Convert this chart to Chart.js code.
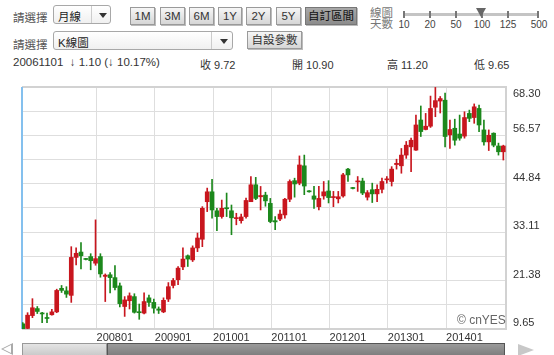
<!DOCTYPE html>
<html>
<head>
<meta charset="utf-8">
<script src="https://cdn.jsdelivr.net/npm/chart.js@4.4.1/dist/chart.umd.min.js"></script>
<style>
  body { margin: 0; width: 554px; height: 355px; overflow: hidden; background: #fff; position: relative;
         font-family: Arial, "Liberation Sans", "Noto Sans CJK TC", sans-serif; font-size: 11px; color: #333; }
  .a { position: absolute; white-space: nowrap; }
  .lbl { color: #555; font-size: 11.5px; }
  .sel { border: 1px solid #a8a8a8; border-radius: 3px; background: linear-gradient(#fff, #f0f0f0); height: 19px; box-sizing: border-box; }
  .sel span { position: absolute; left: 4px; top: 2px; font-size: 11.5px; color: #222; }
  .sel i { position: absolute; top: 0; bottom: 0; width: 0; border-left: 1px solid #ccc; }
  .sel b { position: absolute; top: 7px; width: 0; height: 0; border-left: 4px solid transparent; border-right: 4px solid transparent; border-top: 5px solid #333; }
  .btn { height: 18px; box-sizing: border-box; border: 1px solid #9a9a9a; background: linear-gradient(#f6f6f6, #d6d6d6);
         text-align: center; line-height: 16px; font-size: 11.5px; color: #333; box-shadow: 1px 1px 0 #bbb; }
  .btn.on { background: linear-gradient(#a8a8a8, #8c8c8c); color: #111; border-color: #777; }
  .tk { position: absolute; top: 11px; width: 2px; height: 7px; background: #777; }
  .tl { position: absolute; top: 19px; font-size: 10px; color: #444; transform: translateX(-50%); }
  #wrap { position: absolute; left: 0; top: 82px; width: 554px; height: 262px; }
</style>
</head>
<body>

<!-- toolbar row 1 -->
<div class="a lbl" style="left:13px;top:9px;">請選擇</div>
<div class="a sel" style="left:53px;top:5px;width:58px;"><span>月線</span><i style="left:37px"></i><b style="left:45px"></b></div>
<div class="a btn" style="left:130px;top:7px;width:25px;">1M</div>
<div class="a btn" style="left:160px;top:7px;width:25px;">3M</div>
<div class="a btn" style="left:189px;top:7px;width:25px;">6M</div>
<div class="a btn" style="left:218px;top:7px;width:24px;">1Y</div>
<div class="a btn" style="left:246px;top:7px;width:25px;">2Y</div>
<div class="a btn" style="left:276px;top:7px;width:25px;">5Y</div>
<div class="a btn on" style="left:305px;top:7px;width:52px;">自訂區間</div>
<div class="a lbl" style="left:370px;top:8px;line-height:11px;color:#777;">線圖<br>天數</div>
<div class="a" style="left:403px;top:13px;width:135px;height:3px;background:#c4c4c4;"></div>
<div class="tk" style="left:403px"></div><div class="tk" style="left:429px"></div><div class="tk" style="left:455px"></div>
<div class="tk" style="left:481px"></div><div class="tk" style="left:507px"></div><div class="tk" style="left:537px"></div>
<div class="tl" style="left:404px">10</div><div class="tl" style="left:430px">20</div><div class="tl" style="left:456px">50</div>
<div class="tl" style="left:482px">100</div><div class="tl" style="left:508px">125</div><div class="tl" style="left:539px">500</div>
<div class="a" style="left:476px;top:8px;width:0;height:0;border-left:5px solid transparent;border-right:5px solid transparent;border-top:9px solid #666;"></div>

<!-- toolbar row 2 -->
<div class="a lbl" style="left:13px;top:36px;">請選擇</div>
<div class="a sel" style="left:53px;top:31px;width:180px;"><span>K線圖</span><i style="left:157px"></i><b style="left:166px"></b></div>
<div class="a btn" style="left:247px;top:31px;width:55px;">自設參數</div>

<!-- quote row -->
<div class="a" style="left:13px;top:56px;font-size:11.5px;">20061101 &nbsp;↓ 1.10 (↓ 10.17%)</div>
<div class="a" style="left:200px;top:56px;">收 9.72</div>
<div class="a" style="left:292px;top:56px;">開 10.90</div>
<div class="a" style="left:387px;top:56px;">高 11.20</div>
<div class="a" style="left:474px;top:56px;">低 9.65</div>

<div id="wrap"><canvas id="kChart" width="554" height="262"></canvas></div>
<div class="a" style="left:457px;top:313px;font-size:12px;color:#666;">© cnYES</div>

<!-- scroll bar -->
<div class="a" style="left:1px;top:343px;width:0;height:0;border-top:6px solid transparent;border-bottom:6px solid transparent;border-right:12px solid #aaa;"></div>
<div class="a" style="left:3px;top:345px;width:0;height:0;border-top:4px solid transparent;border-bottom:4px solid transparent;border-right:8px solid #fff;"></div>
<div class="a" style="left:22px;top:343px;width:85px;height:14px;box-sizing:border-box;border:1px solid #999;background:linear-gradient(#e4e4e4,#c8c8c8);"></div>
<div class="a" style="left:107px;top:343px;width:398px;height:14px;box-sizing:border-box;border:1px solid #555;background:linear-gradient(#9a9a9a,#7c7c7c);"></div>
<div class="a" style="left:518px;top:344px;width:0;height:0;border-top:6px solid transparent;border-bottom:6px solid transparent;border-left:16px solid #c8c8c8;"></div>

<script>
// monthly bars, first bar is 2006-11
const months = [
  '200611','200612',
  '200701','200702','200703','200704','200705','200706','200707','200708','200709','200710','200711','200712',
  '200801','200802','200803','200804','200805','200806','200807','200808','200809','200810','200811','200812',
  '200901','200902','200903','200904','200905','200906','200907','200908','200909','200910','200911','200912',
  '201001','201002','201003','201004','201005','201006','201007','201008','201009','201010','201011','201012',
  '201101','201102','201103','201104','201105','201106','201107','201108','201109','201110','201111','201112',
  '201201','201202','201203','201204','201205','201206','201207','201208','201209','201210','201211','201212',
  '201301','201302','201303','201304','201305','201306','201307','201308','201309','201310','201311','201312',
  '201401','201402','201403','201404','201405','201406','201407','201408','201409','201410','201411','201412',
  '201501','201502'
];

const opens = [
  10.90, 9.80, 12.90, 14.60, 13.50, 12.40, 13.10, 13.80, 19.50, 18.90,
  17.80, 27.00, 28.30, 26.70, 27.20, 25.60, 27.20, 22.40, 22.80, 22.10,
  20.10, 15.10, 16.50, 17.50, 13.80, 13.50, 17.20, 16.10, 14.50, 13.80,
  16.90, 20.20, 21.60, 24.70, 27.40, 26.40, 29.30, 31.40, 40.50, 42.90,
  38.30, 36.90, 39.00, 38.30, 36.40, 35.90, 36.90, 40.50, 44.60, 41.70,
  42.10, 40.10, 35.90, 36.30, 37.30, 41.10, 45.60, 45.00, 49.20, 43.10,
  41.90, 39.30, 41.90, 43.10, 41.50, 41.20, 41.90, 48.40, 43.90, 45.30,
  45.50, 41.60, 43.40, 42.40, 43.50, 45.80, 45.40, 49.50, 49.20, 51.80,
  53.80, 53.00, 60.30, 58.00, 58.80, 63.40, 64.90, 65.10, 56.70, 58.30,
  56.90, 56.40, 61.90, 60.90, 63.10, 57.90, 55.00, 57.10, 54.00, 52.60
];
const highs = [
  11.20, 13.60, 17.00, 15.10, 13.70, 13.50, 14.40, 19.30, 20.20, 19.90,
  29.60, 29.30, 30.60, 26.80, 27.90, 36.10, 27.90, 23.00, 23.30, 25.00,
  20.80, 17.50, 18.40, 18.20, 15.70, 18.40, 17.90, 16.90, 15.00, 17.20,
  20.90, 21.90, 24.80, 29.30, 27.60, 29.80, 32.90, 39.30, 43.80, 45.90,
  38.90, 40.90, 42.60, 39.70, 37.70, 37.50, 41.40, 46.60, 46.40, 44.20,
  42.80, 41.30, 36.90, 38.50, 41.30, 45.80, 46.20, 51.60, 51.80, 43.20,
  44.20, 44.20, 45.40, 45.60, 43.00, 43.00, 47.40, 48.60, 44.00, 46.60,
  46.20, 43.20, 45.00, 44.60, 46.20, 46.60, 49.00, 50.80, 53.40, 55.10,
  55.90, 61.50, 63.70, 61.90, 66.10, 68.20, 66.00, 66.80, 60.30, 60.50,
  61.50, 62.30, 62.70, 64.20, 63.90, 60.30, 57.90, 57.20, 54.70, 54.20
];
const lows = [
  9.65, 9.70, 12.40, 13.40, 11.20, 11.20, 13.00, 13.60, 18.50, 17.30,
  16.10, 25.20, 24.20, 26.40, 24.00, 25.10, 22.20, 16.30, 18.40, 19.10,
  15.00, 12.70, 14.50, 13.50, 12.00, 13.30, 15.10, 13.50, 13.40, 13.60,
  16.30, 19.60, 20.40, 24.00, 24.80, 26.00, 28.40, 29.60, 38.10, 36.50,
  33.50, 36.50, 36.90, 32.50, 34.90, 35.30, 36.50, 40.50, 41.00, 38.50,
  39.40, 35.40, 33.70, 35.90, 36.50, 40.50, 41.60, 44.60, 42.20, 42.80,
  38.90, 38.50, 41.10, 40.20, 39.30, 40.20, 41.60, 45.40, 43.60, 43.00,
  42.20, 40.90, 40.30, 40.50, 42.60, 45.00, 44.30, 48.40, 47.40, 51.00,
  47.80, 52.90, 56.30, 57.90, 58.50, 61.10, 62.00, 53.80, 53.40, 54.20,
  55.40, 55.90, 59.90, 59.50, 57.50, 54.20, 52.90, 53.80, 51.80, 50.60
];
const closes = [
  9.72, 13.00, 14.80, 13.90, 13.30, 12.20, 13.80, 19.00, 19.00, 18.10,
  27.00, 28.00, 27.40, 26.50, 26.20, 26.70, 23.00, 22.70, 22.10, 19.70,
  15.80, 16.70, 17.70, 13.70, 13.60, 16.30, 16.10, 14.70, 14.20, 16.60,
  19.90, 21.40, 24.40, 26.60, 26.60, 29.30, 31.70, 38.90, 42.90, 38.50,
  36.90, 38.90, 38.80, 36.60, 36.60, 36.80, 40.80, 44.60, 41.30, 42.00,
  40.70, 35.70, 35.60, 37.50, 41.10, 45.40, 44.80, 49.40, 44.30, 42.90,
  41.10, 41.30, 42.90, 41.50, 41.70, 41.70, 47.00, 47.00, 43.70, 45.50,
  42.60, 42.70, 42.40, 43.50, 45.40, 46.00, 48.40, 49.80, 51.80, 54.20,
  55.40, 59.10, 57.50, 58.80, 63.10, 65.00, 65.50, 56.30, 58.00, 55.40,
  55.90, 60.90, 60.70, 63.50, 59.10, 55.00, 56.60, 54.20, 52.60, 54.00
];

// axis labels
const xTickLabels = ['200801', '200901', '201001', '201101', '201201', '201301', '201401'];
const yTickLabels = ['9.65', '21.38', '33.11', '44.84', '56.57', '68.30'];

// the source draws its year lines a little after the January bar
const GRID_LAG = 1.2;

const UP = '#c8161e';
const DOWN = '#1c881c';

document.addEventListener('DOMContentLoaded', function () {

  const colors = opens.map(function (o, i) { return closes[i] >= o ? UP : DOWN; });
  const bodyData = months.map(function (m, i) { return { x: i, y: [opens[i], closes[i]] }; });
  const wickData = months.map(function (m, i) { return { x: i, y: [lows[i], highs[i]] }; });

  const yVals = yTickLabels.map(Number);

  // frame around the plot + blue edge on the left
  const framePlugin = {
    id: 'frame',
    beforeDatasetsDraw(chart) {
      const a = chart.chartArea;
      const ctx = chart.ctx;
      ctx.save();
      ctx.strokeStyle = '#c4c4c4';
      ctx.lineWidth = 1;
      ctx.strokeRect(a.left + 0.5, a.top + 0.5, a.right - a.left - 1, a.bottom - a.top - 1);
      ctx.fillStyle = '#d2d2d2';
      ctx.fillRect(a.left, a.top - 1, a.right - a.left + 1, 2);
      ctx.fillRect(a.right - 1, a.top, 2, a.bottom - a.top);
      ctx.fillRect(a.left, a.bottom - 1, a.right - a.left + 1, 2);
      ctx.fillStyle = '#84c0ee';
      ctx.fillRect(a.left - 1, a.top, 2, a.bottom - a.top);
      ctx.restore();
    }
  };

  const config = {
    type: 'bar',
    data: {
      datasets: [{
        label: 'body',
        data: bodyData,
        backgroundColor: colors,
        barThickness: 4,
        minBarLength: 1,
        grouped: false
      }, {
        label: 'wick',
        data: wickData,
        backgroundColor: colors,
        barThickness: 1,
        grouped: false
      }]
    },
    options: {
      responsive: false,
      animation: false,
      devicePixelRatio: 1,
      layout: { padding: { top: 5, left: 22, right: 0, bottom: 0 } },
      plugins: { legend: { display: false }, tooltip: { enabled: false } },
      scales: {
        x: {
          type: 'linear',
          offset: false,
          min: -0.15,
          max: 99.55,
          afterBuildTicks: function (s) {
            s.ticks = xTickLabels.map(function (l) { return { value: months.indexOf(l) + GRID_LAG }; });
          },
          afterFit: function (s) { s.height = 15; s.paddingLeft = 0; s.paddingRight = 0; },
          grid: { color: '#dedede', drawTicks: false, offset: false },
          border: { display: false },
          ticks: {
            autoSkip: false,
            maxRotation: 0,
            align: 'start',
            padding: 2,
            color: '#333',
            font: { family: 'Arial, "Liberation Sans"', size: 11 },
            callback: function (v, i) { return xTickLabels[i]; }
          }
        },
        y: {
          position: 'right',
          min: yVals[0],
          max: yVals[yVals.length - 1],
          afterBuildTicks: function (s) {
            const t = [];
            yVals.forEach(function (v, i) {
              t.push({ value: v });
              if (i < yVals.length - 1) t.push({ value: (v + yVals[i + 1]) / 2 });
            });
            s.ticks = t;
          },
          afterFit: function (s) { s.width = 48; s.paddingTop = 0; s.paddingBottom = 0; },
          grid: { color: '#dedede', drawTicks: false },
          border: { display: false },
          ticks: {
            autoSkip: false,
            padding: 7,
            labelOffset: -6,
            color: '#333',
            font: { family: 'Arial, "Liberation Sans"', size: 11 },
            callback: function (v, i) {
              if (i % 2) return '';
              const txt = yTickLabels[i / 2];
              // top label sits below the frame line
              return i === (yVals.length - 1) * 2 ? ['', '', txt] : txt;
            }
          }
        }
      }
    },
    plugins: [framePlugin]
  };

  const kChart = new Chart(document.getElementById('kChart'), config);
});
</script>
</body>
</html>
